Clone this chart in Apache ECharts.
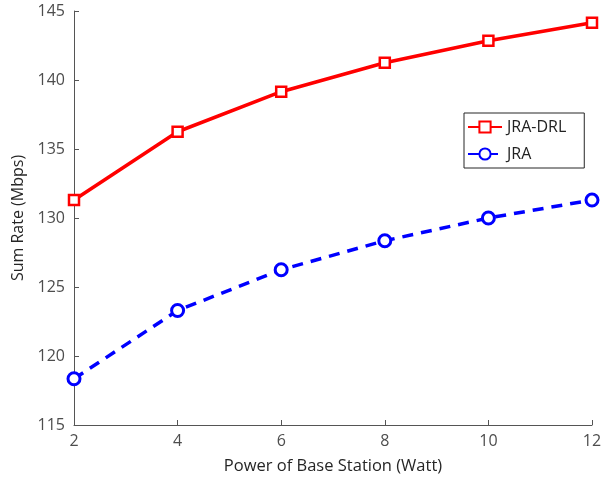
<!DOCTYPE html>
<html>
<head>
<meta charset="utf-8">
<script src="https://cdn.jsdelivr.net/npm/echarts@6/dist/echarts.min.js"></script>
<style>
  html, body { margin: 0; padding: 0; background: #fff; }
  #chart { width: 608px; height: 480px; }
</style>
</head>
<body>
<div id="chart"></div>
<script>
var power = [2, 4, 6, 8, 10, 12];
var jraDrl = [131.3, 136.25, 139.15, 141.25, 142.85, 144.15];
var jra = [118.35, 123.3, 126.25, 128.35, 130.0, 131.3];

function pairs(xs, ys) {
    var out = [];
    for (var i = 0; i < xs.length; i++) {
        out.push([xs[i], ys[i]]);
    }
    return out;
}

var fontFam = '"Open Sans", "DejaVu Sans", sans-serif';
var myChart = echarts.init(document.getElementById('chart'));
var option = {
    animation: false,
    backgroundColor: '#fff',
    grid: { left: 74, right: 16, top: 11, bottom: 54 },
    legend: {
        left: 464,
        top: 113,
        orient: 'vertical',
        backgroundColor: '#fff',
        borderColor: '#262626',
        borderWidth: 1,
        borderRadius: 0,
        padding: [6, 18, 6, 3],
        itemGap: 11,
        itemWidth: 34,
        itemHeight: 14,
        textStyle: { fontFamily: fontFam, fontSize: 16, color: '#222' },
        data: ['JRA-DRL', 'JRA']
    },
    xAxis: {
        type: 'value',
        min: 2, max: 12, interval: 2,
        name: 'Power of Base Station (Watt)',
        nameLocation: 'middle',
        nameGap: 33,
        nameTextStyle: { fontFamily: fontFam, fontSize: 16.5, color: '#262626' },
        axisLine: { lineStyle: { color: '#555', width: 1 } },
        axisTick: { inside: true, length: 5, lineStyle: { color: '#555' } },
        axisLabel: { fontFamily: fontFam, fontSize: 16, color: '#4d4d4d', margin: 8 },
        splitLine: { show: false }
    },
    yAxis: {
        type: 'value',
        min: 115, max: 145, interval: 5,
        name: 'Sum Rate (Mbps)',
        nameLocation: 'middle',
        nameGap: 43,
        nameTextStyle: { fontFamily: fontFam, fontSize: 16, color: '#262626' },
        axisLine: { show: true, lineStyle: { color: '#555', width: 1 } },
        axisTick: { show: true, inside: true, length: 5, lineStyle: { color: '#555' } },
        axisLabel: { fontFamily: fontFam, fontSize: 16, color: '#4d4d4d', margin: 9 },
        splitLine: { show: false }
    },
    series: [
        {
            name: 'JRA-DRL',
            type: 'line',
            data: pairs(power, jraDrl),
            symbol: 'rect',
            symbolSize: 10,
            showAllSymbol: true,
            lineStyle: { color: '#ff0000', width: 3.5 },
            itemStyle: { color: '#fff', borderColor: '#ff0000', borderWidth: 2.5 },
            z: 3
        },
        {
            name: 'JRA',
            type: 'line',
            data: pairs(power, jra),
            symbol: 'circle',
            symbolSize: 12,
            showAllSymbol: true,
            lineStyle: { color: '#0000ff', width: 3.5, type: [11, 8] },
            itemStyle: { color: '#fff', borderColor: '#0000ff', borderWidth: 3 },
            z: 3
        }
    ]
};
myChart.setOption(option);
</script>
</body>
</html>
